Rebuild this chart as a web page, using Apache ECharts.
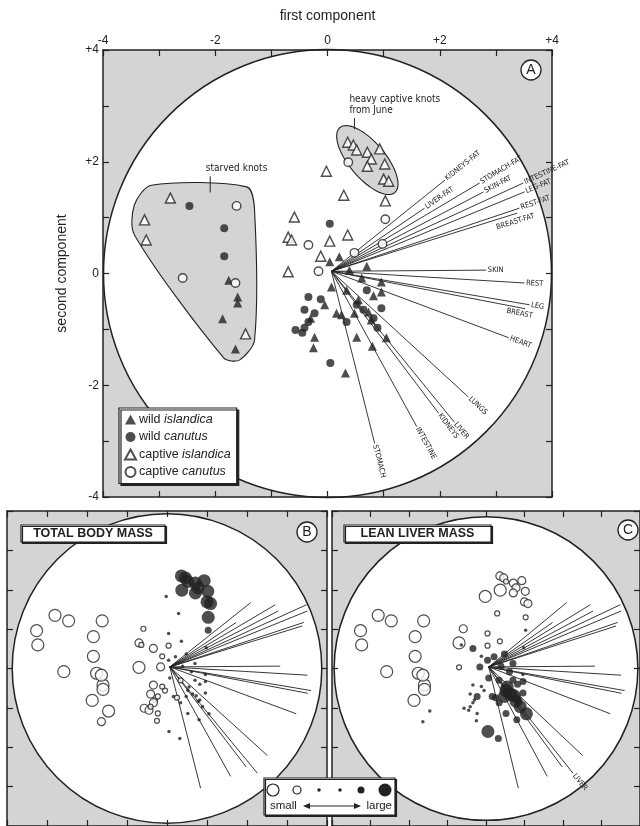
<!DOCTYPE html>
<html><head><meta charset="utf-8">
<script src="https://cdn.jsdelivr.net/npm/echarts@6/dist/echarts.min.js"></script>
<style>html,body{margin:0;padding:0;background:#fff}#c{width:640px;height:826px}</style>
</head><body><div id="c"></div><script>
// ---------- data ----------
// each point: [first component, second component, total body mass class, lean liver mass class]
// mass class: -3..-1 = open circles (large..small = small mass), +1..+3 = filled (small..large = large mass)
const wildIslandica = [
  [-1.76,-0.12,-3,-3],[-1.60,-0.42,-3,-3],[-1.60,-0.53,-3,-3],[-1.87,-0.81,-3,-3],[-1.64,-1.35,-2,1],
  [0.21,0.30,1,2],[0.04,0.21,1,2],[0.07,-0.24,1,2],[-0.05,-0.56,-1,1],[-0.30,-0.80,-1,1],
  [-0.23,-1.14,-1,1],[-0.25,-1.33,-1,1],[0.32,-1.78,1,2],[0.16,-0.71,1,2],[0.25,-0.74,-1,2],
  [0.48,-0.71,1,3],[0.52,-1.14,1,2],[0.80,-1.30,1,2],[1.05,-1.15,1,3],[0.78,-0.83,1,3],
  [0.55,-0.47,1,3],[0.73,-0.69,1,3],[0.96,-0.15,1,1],[0.96,-0.33,1,2],[0.82,-0.40,1,2],
  [0.70,0.13,1,2],[0.39,0.06,1,2],[0.61,-0.08,1,2],[0.34,-0.30,-1,2]
];
const wildCanutus = [
  [-2.46,1.21,-3,-3],[-1.84,0.81,-3,-3],[-1.84,0.31,-3,-3],[0.04,0.89,1,-1],
  [-0.34,-0.42,-2,1],[-0.12,-0.46,-1,1],[-0.41,-0.65,-2,1],[-0.23,-0.71,-1,2],[-0.34,-0.87,-2,1],
  [-0.57,-1.01,-2,1],[-0.45,-1.06,-2,1],[-0.41,-0.97,-1,1],[0.05,-1.60,1,3],[0.89,-0.97,1,3],
  [0.96,-0.62,1,2],[0.82,-0.80,1,2],[0.52,-0.56,1,3],[0.64,-0.65,1,3],[0.34,-0.87,1,2],[0.70,-0.30,1,2]
];
const captiveIslandica = [
  [0.36,2.35,3,-2],[0.46,2.30,3,-2],[0.52,2.21,3,-1],[0.71,2.17,3,-2],[0.93,2.23,3,-2],
  [0.78,2.05,3,-2],[0.71,1.92,3,-2],[1.02,1.96,3,-2],[1.00,1.69,3,-2],[1.09,1.65,3,-2],
  [-0.02,1.83,1,-3],[0.29,1.40,1,-1],[1.03,1.30,3,-1],[-0.59,1.01,-1,-2],[0.36,0.69,1,-1],
  [-0.70,0.65,-2,-3],[-0.64,0.60,-1,1],[0.04,0.58,-1,-1],[-0.12,0.31,-1,1],[-0.70,0.03,-3,-1],
  [-2.80,1.35,-3,-3],[-3.26,0.96,-3,-3],[-3.23,0.60,-3,-3],[-1.46,-1.08,-3,1]
];
const captiveCanutus = [
  [0.37,1.99,3,-3],[1.03,0.97,2,1],[-0.34,0.51,-2,2],[0.48,0.37,1,2],[0.98,0.53,1,1],
  [-0.16,0.04,-2,2],[-1.62,1.21,-3,-3],[-2.58,-0.08,-3,-3],[-1.64,-0.17,-3,-3]
];
const vectorNames = ['KIDNEYS-FAT','LIVER-FAT','STOMACH-FAT','SKIN-FAT','INTESTINE-FAT','LEG-FAT','REST-FAT','BREAST-FAT',
  'SKIN','REST','LEG','BREAST','HEART','LUNGS','LIVER','KIDNEYS','INTESTINE','STOMACH'];
const vectorEnds = [[2.09,1.67],[1.73,1.17],[2.71,1.62],[2.78,1.46],[3.49,1.62],[3.51,1.46],[3.42,1.17],[3.38,1.08],
  [2.83,0.06],[3.51,-0.17],[3.60,-0.56],[3.52,-0.63],[3.23,-1.15],[2.51,-2.21],[2.26,-2.66],[1.98,-2.50],[1.59,-2.74],[0.84,-3.04]];
const vectorOrigin = [0.07,0.04];
const tickValues = [-4,-3,-2,-1,0,1,2,3,4];
const tickLabels = {'-4':'-4','-2':'-2','0':'0','2':'+2','4':'+4'};
const groupNames = ['wild islandica','wild canutus','captive islandica','captive canutus'];

// ---------- styles ----------
const INK = '#222';
const SHADE = '#d4d4d4';
const FONT = '"Liberation Sans", Arial, sans-serif';
const NARROW = '"Liberation Sans Narrow", "DejaVu Sans Condensed", "Liberation Sans", sans-serif';
const labelAnchor = {'BREAST-FAT':[3.01,0.82], 'BREAST':[3.19,-0.67]};
const OPEN_SIZE = {1:5, 2:8, 3:12};
const FILLED_SIZE = {1:3.5, 2:7, 3:13};

const panels = [
  {grid:{left:103, top:50, width:449, height:447}, labels:true, r:4},
  {grid:{left:7, top:511, width:320, height:318}, labels:false, r:3.9},
  {grid:{left:332, top:511, width:316, height:318}, labels:false, r:3.9}
];

function fmt(v){ const k = String(Math.round(v)); return tickLabels[k] !== undefined ? tickLabels[k] : ''; }

const grids = [], xAxes = [], yAxes = [];
panels.forEach((p, i) => {
  grids.push(Object.assign({show:true, backgroundColor:SHADE, borderWidth:0}, p.grid));
  const lineS = {show:true, onZero:false, lineStyle:{color:INK, width:1.5}};
  const tickS = {show:true, inside:true, length:6, lineStyle:{color:INK, width:1.2}};
  ['top','bottom'].forEach(pos => xAxes.push({
    type:'value', gridIndex:i, position:pos, min:-4, max:4, interval:1, z:5,
    axisLine:lineS, axisTick:tickS, splitLine:{show:false},
    axisLabel:{show:p.labels && pos==='top', formatter:fmt, color:INK, fontSize:12, fontFamily:FONT, margin:3},
    name: (p.labels && pos==='top') ? 'first component' : '', nameLocation:'middle', nameGap:27,
    nameTextStyle:{color:INK, fontSize:14, fontFamily:FONT}
  }));
  ['left','right'].forEach(pos => yAxes.push({
    type:'value', gridIndex:i, position:pos, min:-4, max:4, interval:1, z:5,
    axisLine:lineS, axisTick:tickS, splitLine:{show:false},
    axisLabel:{show:p.labels && pos==='left', formatter:fmt, color:INK, fontSize:12, fontFamily:FONT, margin:4},
    name: (p.labels && pos==='left') ? 'second component' : '', nameLocation:'middle', nameGap:34, nameRotate:90,
    nameTextStyle:{color:INK, fontSize:14, fontFamily:FONT}
  }));
});

const series = [];
// unit circles
panels.forEach((p, i) => {
  series.push({type:'custom', xAxisIndex:2*i, yAxisIndex:2*i, z:1, silent:true, data:[[0,0]],
    renderItem(params, api){
      const c = api.coord([0,0]); const s = api.size([p.r, p.r]);
      return {type:'circle', shape:{cx:c[0], cy:c[1], r:(s[0]+s[1])/2}, style:{fill:'#fff', stroke:INK, lineWidth:1.5}};
    }});
});

// highlighted regions in panel A
const starvedOutline = [[-3.14,1.58],[-1.44,1.55],[-1.30,1.14],[-1.30,-1.19],[-1.57,-1.55],[-1.85,-1.51],[-3.44,0.69],[-3.44,1.23]];
const heavyEllipse = {c:[0.71,2.03], a:0.76, b:0.32, angle:-50};
series.push({type:'custom', xAxisIndex:0, yAxisIndex:0, z:2, silent:true, data:[[0,0]],
  renderItem(params, api){
    const poly = starvedOutline.map(q => api.coord(q));
    const th = heavyEllipse.angle*Math.PI/180, pts = [];
    for (let k=0;k<72;k++){
      const t = 2*Math.PI*k/72, ex = heavyEllipse.a*Math.cos(t), ey = heavyEllipse.b*Math.sin(t);
      pts.push(api.coord([heavyEllipse.c[0]+ex*Math.cos(th)-ey*Math.sin(th), heavyEllipse.c[1]+ex*Math.sin(th)+ey*Math.cos(th)]));
    }
    const st = {fill:SHADE, stroke:INK, lineWidth:1.1};
    const ln = (a,b) => { const A=api.coord(a), B=api.coord(b); return {type:'line', shape:{x1:A[0],y1:A[1],x2:B[0],y2:B[1]}, style:{stroke:INK, lineWidth:1}}; };
    const tx = (t, q, align) => { const P = api.coord(q); return {type:'text', x:P[0], y:P[1], style:{text:t, fontSize:10, fontFamily:NARROW, fill:INK, align:align, verticalAlign:'middle'}}; };
    return {type:'group', children:[
      {type:'polygon', shape:{points:poly, smooth:0.28}, style:st},
      {type:'polygon', shape:{points:pts}, style:st},
      ln([-2.09,1.74],[-2.09,1.45]), tx('starved knots',[-1.62,1.88],'center'),
      ln([0.48,2.78],[0.48,2.58]), tx('heavy captive knots',[0.39,3.12],'left'), tx('from June',[0.39,2.91],'left')
    ]};
  }});

// loading vectors
function vectorSeries(ax, showLabel){
  return {type:'custom', xAxisIndex:ax, yAxisIndex:ax, z:3, silent:true,
    data: vectorEnds.map((e,i) => [e[0], e[1], i]),
    renderItem(params, api){
      const i = api.value(2), name = vectorNames[i];
      const o = api.coord(vectorOrigin), e = api.coord([api.value(0), api.value(1)]);
      const children = [{type:'line', shape:{x1:o[0],y1:o[1],x2:e[0],y2:e[1]}, style:{stroke:INK, lineWidth:0.9}}];
      if (showLabel(name)) {
        const ang = Math.atan2(o[1]-e[1], e[0]-o[0]);
        const p = labelAnchor[name] ? api.coord(labelAnchor[name]) : [e[0]+1.5*Math.cos(ang), e[1]-1.5*Math.sin(ang)];
        children.push({type:'text', x:p[0], y:p[1], rotation:ang,
          style:{text:name, fontSize:7.5, fontFamily:NARROW, fill:INK, align:'left', verticalAlign:'middle'}});
      }
      return {type:'group', children};
    }};
}
series.push(vectorSeries(0, () => true));
series.push(vectorSeries(2, () => false));
series.push(vectorSeries(4, n => n === 'LIVER'));

// panel A groups
const groups = [wildIslandica, wildCanutus, captiveIslandica, captiveCanutus];
const groupStyle = [
  {symbol:'triangle', size:9, item:{color:INK}},
  {symbol:'circle', size:8, item:{color:INK}},
  {symbol:'triangle', size:10, item:{color:'#fff', borderColor:INK, borderWidth:1.4}},
  {symbol:'circle', size:8.5, item:{color:'#fff', borderColor:INK, borderWidth:1.4}}
];
groups.forEach((g, k) => series.push({
  type:'scatter', name:groupNames[k], xAxisIndex:0, yAxisIndex:0, z:4, silent:true,
  symbol:groupStyle[k].symbol, symbolSize:groupStyle[k].size, itemStyle:groupStyle[k].item,
  data: g.map(p => [p[0], p[1]])
}));

// panels B and C: size-coded circles
const allPoints = [].concat(wildIslandica, wildCanutus, captiveIslandica, captiveCanutus);
function massData(col){
  return allPoints.map(p => {
    const s = p[col];
    return {value:[p[0], p[1]], symbolSize: s > 0 ? FILLED_SIZE[s] : OPEN_SIZE[-s],
      itemStyle: s > 0 ? {color:INK, borderWidth:0} : {color:'#fff', borderColor:INK, borderWidth:1.2}};
  });
}
series.push({type:'scatter', name:'total body mass', xAxisIndex:2, yAxisIndex:2, z:4, silent:true, symbol:'circle', data:massData(2)});
series.push({type:'scatter', name:'lean liver mass', xAxisIndex:4, yAxisIndex:4, z:4, silent:true, symbol:'circle', data:massData(3)});

// ---------- decorations ----------
const ZTOP = 100;
function circledLetter(t, cx, cy){
  return {type:'group', children:[
    {type:'circle', z:ZTOP, shape:{cx, cy, r:10}, style:{fill:'#fff', stroke:INK, lineWidth:1.3}},
    {type:'text', z:ZTOP+1, x:cx, y:cy+0.5, style:{text:t, fontSize:14, fontFamily:FONT, fill:INK, align:'center', verticalAlign:'middle'}}
  ]};
}
function titleBox(t, x, y, w, h){
  return {type:'group', children:[
    {type:'rect', z:ZTOP, shape:{x, y, width:w, height:h}, style:{fill:'#fff', stroke:INK, lineWidth:1.2, shadowColor:INK, shadowOffsetX:1.5, shadowOffsetY:1.5, shadowBlur:0}},
    {type:'text', z:ZTOP+1, x:x+w/2, y:y+h/2+0.5, style:{text:t, fontSize:12.5, fontWeight:'bold', fontFamily:FONT, fill:INK, align:'center', verticalAlign:'middle'}}
  ]};
}
const sizeKey = [-3,-2,1,1,2,3];
const keyX = [273,297,319,340,361,385];
const sizeLegend = {type:'group', children:[
  {type:'rect', z:ZTOP, shape:{x:264, y:778, width:131, height:37}, style:{fill:'#fff', stroke:INK, lineWidth:1.2, shadowColor:INK, shadowOffsetX:1.5, shadowOffsetY:1.5, shadowBlur:0}},
  ...sizeKey.map((s, i) => ({type:'circle', z:ZTOP+1, shape:{cx:keyX[i], cy:790, r:(s>0?FILLED_SIZE[s]:OPEN_SIZE[-s])/2},
      style: s>0 ? {fill:INK} : {fill:'#fff', stroke:INK, lineWidth:1.2}})),
  {type:'text', z:ZTOP+1, x:270, y:806, style:{text:'small', fontSize:11.5, fontFamily:FONT, fill:INK, align:'left', verticalAlign:'middle'}},
  {type:'text', z:ZTOP+1, x:392, y:806, style:{text:'large', fontSize:11.5, fontFamily:FONT, fill:INK, align:'right', verticalAlign:'middle'}},
  {type:'line', z:ZTOP+1, shape:{x1:306, y1:806, x2:358, y2:806}, style:{stroke:INK, lineWidth:1.2}},
  {type:'polygon', z:ZTOP+1, shape:{points:[[303,806],[310,803],[310,809]]}, style:{fill:INK}},
  {type:'polygon', z:ZTOP+1, shape:{points:[[361,806],[354,803],[354,809]]}, style:{fill:INK}}
]};

const chart = echarts.init(document.getElementById('c'), null, {renderer:'canvas'});
chart.setOption({
  animation:false,
  backgroundColor:'#fff',
  grid:grids, xAxis:xAxes, yAxis:yAxes, series:series,
  legend:{data:groupNames, orient:'vertical', left:119, top:408, padding:[5,6,5,5], itemGap:4.5,
    itemWidth:11, itemHeight:10, selectedMode:false, backgroundColor:'#fff', borderColor:INK, borderWidth:1.2,
    shadowColor:INK, shadowOffsetX:2, shadowOffsetY:2, shadowBlur:0,
    formatter: n => { const w = n.split(' '); return w[0] + ' {i|' + w[1] + '}'; },
    textStyle:{color:INK, fontSize:12.5, fontFamily:FONT, padding:[0,0,0,-2],
      rich:{i:{fontStyle:'italic', fontSize:12.5, fontFamily:FONT, color:INK}}}},
  graphic:{elements:[
    circledLetter('A', 531, 70), circledLetter('B', 307, 532), circledLetter('C', 628, 530),
    titleBox('TOTAL BODY MASS', 21, 525, 144, 17), titleBox('LEAN LIVER MASS', 344, 525, 147, 17),
    sizeLegend
  ]}
});
</script></body></html>
